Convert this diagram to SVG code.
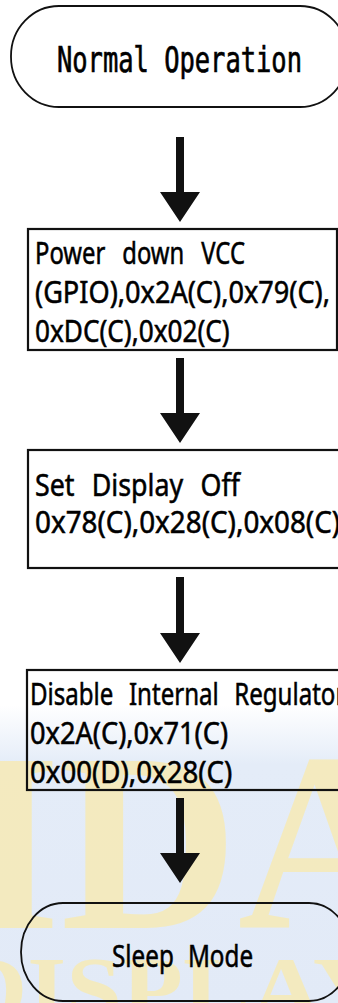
<svg xmlns="http://www.w3.org/2000/svg" width="338" height="1003" viewBox="0 0 338 1003">
  <style>
    .term { fill: none; stroke: #111; stroke-width: 1.8; }
    .box { fill: none; stroke: #111; stroke-width: 2.2; }
    .t { font-family: "Noto Sans", "Open Sans", sans-serif; font-size: 31px; font-weight: normal; fill: #000; stroke: #000; stroke-width: 0.55; }
    .mono { font-family: "DejaVu Sans Mono", "Liberation Mono", monospace; font-size: 35px; fill: #000; stroke: #000; stroke-width: 0.7; }
    .wm { font-family: "Liberation Serif", serif; font-weight: bold; fill: #fbeaa8; }
    .arrow { fill: #111; }
  </style>
  <defs>
    <linearGradient id="bg" x1="0" y1="0" x2="0" y2="1">
      <stop offset="0" stop-color="#e4ecf8" stop-opacity="0"/>
      <stop offset="0.2" stop-color="#e4ecf8" stop-opacity="1"/>
      <stop offset="1" stop-color="#e2eaf7" stop-opacity="1"/>
    </linearGradient>
  </defs>
  <rect x="0" y="0" width="338" height="1003" fill="#fff"/>
  <g id="background">
    <rect x="0" y="705" width="338" height="298" fill="url(#bg)"/>
    <text class="wm" x="-35" y="928" font-size="255" textLength="450" lengthAdjust="spacingAndGlyphs" opacity="0.7">IDA</text>
    <text class="wm" x="-45" y="1020" font-size="90" textLength="430" lengthAdjust="spacingAndGlyphs" opacity="0.7">DISPLAY</text>
  </g>

  <g id="connectors">
    <path class="arrow" d="M176 137 H184 V192 H200 L180 222 L160 192 H176 Z"/>
    <path class="arrow" d="M176 358 H184 V413 H200 L180 443 L160 413 H176 Z"/>
    <path class="arrow" d="M176 577 H184 V633 H200 L180 663 L160 633 H176 Z"/>
    <path class="arrow" d="M176 798 H184 V853 H200 L180 883 L160 853 H176 Z"/>
  </g>

  <g id="normal-operation">
    <rect class="term" x="11" y="6" width="337" height="101" rx="48" ry="50"/>
    <text class="mono" transform="translate(57 72) scale(0.727 1)" x="0" y="0">Normal Operation</text>
  </g>

  <g id="power-down-vcc">
    <rect class="box" x="28" y="229" width="309" height="121"/>
    <text class="t" transform="translate(35 264) scale(0.85 1)" textLength="247" lengthAdjust="spacingAndGlyphs" word-spacing="14">Power down VCC</text>
    <text class="t" transform="translate(35 303) scale(0.85 1)" textLength="347" lengthAdjust="spacingAndGlyphs">(GPIO),0x2A(C),0x79(C),</text>
    <text class="t" transform="translate(35 342) scale(0.85 1)" textLength="229" lengthAdjust="spacingAndGlyphs">0xDC(C),0x02(C)</text>
  </g>

  <g id="set-display-off">
    <rect class="box" x="28" y="450" width="320" height="118"/>
    <text class="t" transform="translate(35 496) scale(0.85 1)" textLength="241" lengthAdjust="spacingAndGlyphs" word-spacing="12">Set Display Off</text>
    <text class="t" transform="translate(35 533) scale(0.85 1)" textLength="359" lengthAdjust="spacingAndGlyphs">0x78(C),0x28(C),0x08(C)</text>
  </g>

  <g id="disable-regulator">
    <rect class="box" x="27" y="670" width="321" height="120"/>
    <text class="t" transform="translate(30 705) scale(0.85 1)" textLength="371" lengthAdjust="spacingAndGlyphs" word-spacing="12">Disable Internal Regulator</text>
    <text class="t" transform="translate(30 744) scale(0.85 1)" textLength="233" lengthAdjust="spacingAndGlyphs">0x2A(C),0x71(C)</text>
    <text class="t" transform="translate(30 783) scale(0.85 1)" textLength="238" lengthAdjust="spacingAndGlyphs">0x00(D),0x28(C)</text>
  </g>

  <g id="sleep-mode">
    <rect class="term" x="21" y="903" width="330" height="98" rx="42" ry="49"/>
    <text class="t" transform="translate(112 967) scale(0.85 1)" font-size="33" textLength="166" lengthAdjust="spacingAndGlyphs" word-spacing="10">Sleep Mode</text>
  </g>
</svg>
